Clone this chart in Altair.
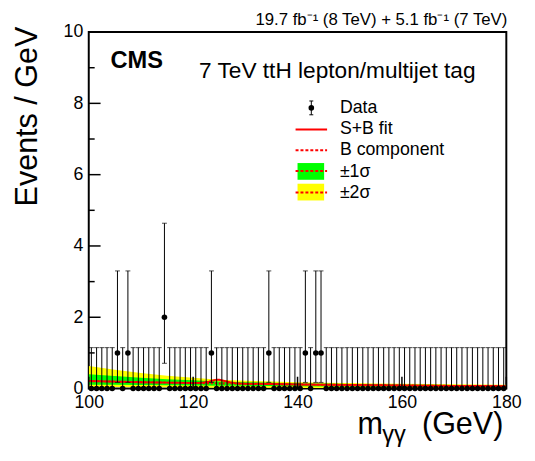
import altair as alt
import pandas as pd

# ---------------- data ----------------
bin_centers = [100.5 + i for i in range(80)]
counts = [0, 0, 0, 0, 0, 1, 0, 1, 0, 0,
          0, 0, 0, 0, 2, 0, 0, 0, 0, 0,
          0, 0, 0, 1, 0, 0, 0, 0, 0, 0,
          0, 0, 0, 0, 1, 0, 0, 0, 0, 0,
          0, 1, 0, 1, 1, 0, 0, 0, 0, 0,
          0, 0, 0, 0, 0, 0, 0, 0, 0, 0,
          0, 0, 0, 0, 0, 0, 0, 0, 0, 0,
          0, 0, 0, 0, 0, 0, 0, 0, 0, 0]
# Poisson (Garwood) interval per observed count
poisson_lo = {0: 0.0, 1: 0.173, 2: 0.709}
poisson_hi = {0: 1.148, 1: 3.300, 2: 4.638}

fit_mass = [100, 105, 110, 115, 120, 125, 130, 135, 140, 145, 150, 155, 160, 165, 170, 175, 180]
bkg = [0.21, 0.195, 0.18, 0.167, 0.155, 0.145, 0.135, 0.125, 0.116, 0.108, 0.10, 0.093, 0.086, 0.08, 0.074, 0.069, 0.064]
up1 = [0.40, 0.35, 0.30, 0.26, 0.23, 0.20, 0.18, 0.165, 0.15, 0.14, 0.13, 0.12, 0.11, 0.105, 0.098, 0.092, 0.088]
lo1 = [0.11, 0.105, 0.10, 0.095, 0.088, 0.082, 0.076, 0.07, 0.065, 0.06, 0.055, 0.05, 0.047, 0.044, 0.041, 0.038, 0.035]
up2 = [0.63, 0.53, 0.44, 0.36, 0.30, 0.25, 0.22, 0.20, 0.18, 0.165, 0.155, 0.145, 0.135, 0.128, 0.12, 0.115, 0.11]
lo2 = [0.05, 0.045, 0.04, 0.035, 0.03, 0.025, 0.02, 0.02, 0.015, 0.015, 0.01, 0.01, 0.01, 0.01, 0.01, 0.01, 0.01]

sb_mass = [100, 105, 110, 115, 120, 121, 122, 123, 124, 124.5, 125, 126, 127, 128, 129, 130, 135, 140, 145, 150, 155, 160, 165, 170, 175, 180]
sb_val = [0.21, 0.195, 0.18, 0.167, 0.156, 0.158, 0.168, 0.195, 0.235, 0.25, 0.245, 0.21, 0.175, 0.152, 0.142, 0.136, 0.125, 0.116, 0.108, 0.10, 0.093, 0.086, 0.08, 0.074, 0.069, 0.064]

y_major = [0, 2, 4, 6, 8, 10]
y_minor = [1, 3, 5, 7, 9]
x_major = [100, 120, 140, 160, 180]

W, H = 424, 362
FONT = "Liberation Sans"

# ---------------- tables ----------------
data_df = pd.DataFrame({
    "m": bin_centers,
    "n": counts,
    "lo": [poisson_lo[c] for c in counts],
    "hi": [poisson_hi[c] for c in counts],
})
lowcap_df = data_df[data_df["n"] > 0]
band_df = pd.DataFrame({"m": fit_mass, "b": bkg, "up1": up1, "lo1": lo1, "up2": up2, "lo2": lo2})
sb_df = pd.DataFrame({"m": sb_mass, "v": sb_val})

xs = alt.Scale(domain=[100, 180], nice=False, zero=False)
ys = alt.Scale(domain=[0, 10], nice=False)

X = alt.X("m:Q", scale=xs,
          axis=alt.Axis(values=x_major, title=None, ticks=False, domain=False, grid=False,
                        labelFontSize=18, labelPadding=5, labelColor="black", labelFont=FONT,
                        labelFlush=False))
Y_axis = alt.Axis(values=y_major, title="Events / GeV", ticks=False, domain=False, grid=False,
                  labelFontSize=18, labelPadding=6, labelColor="black", labelFont=FONT,
                  titleFontSize=31, titleFont=FONT, titleFontWeight="normal", titleColor="black",
                  titleAngle=270, titleAlign="right", titleBaseline="alphabetic",
                  titleX=-53, titleY=-6, labelFlush=False)

base_band = alt.Chart(band_df)
band2 = base_band.mark_area(color="#ffff00", opacity=1, clip=True).encode(
    x=X, y=alt.Y("up2:Q", scale=ys, axis=Y_axis), y2="lo2:Q")
band1 = base_band.mark_area(color="#00ff00", opacity=1, clip=True).encode(
    x=alt.X("m:Q", scale=xs), y=alt.Y("up1:Q", scale=ys), y2="lo1:Q")
bline = base_band.mark_line(color="#ff0000", strokeWidth=2, strokeDash=[2, 2], clip=True).encode(
    x=alt.X("m:Q", scale=xs), y=alt.Y("b:Q", scale=ys))
sbline = alt.Chart(sb_df).mark_line(color="#ff0000", strokeWidth=2, clip=True).encode(
    x=alt.X("m:Q", scale=xs), y=alt.Y("v:Q", scale=ys))

errs = alt.Chart(data_df).mark_rule(color="black", strokeWidth=1, clip=False).encode(
    x=alt.X("m:Q", scale=xs), y=alt.Y("lo:Q", scale=ys), y2="hi:Q")
topcaps = alt.Chart(data_df).mark_tick(color="black", orient="horizontal", size=5, thickness=1).encode(
    x=alt.X("m:Q", scale=xs), y=alt.Y("hi:Q", scale=ys))
lowcaps = alt.Chart(lowcap_df).mark_tick(color="black", orient="horizontal", size=5, thickness=1).encode(
    x=alt.X("m:Q", scale=xs), y=alt.Y("lo:Q", scale=ys))
pts = alt.Chart(data_df).mark_circle(color="black", size=32, opacity=1, clip=False).encode(
    x=alt.X("m:Q", scale=xs), y=alt.Y("n:Q", scale=ys))

# inner ticks (ROOT style)
ymaj = alt.Chart(pd.DataFrame({"t": y_major})).mark_rule(color="black", strokeWidth=1.5).encode(
    y=alt.Y("t:Q", scale=ys), x=alt.value(0), x2=alt.value(12))
ymin = alt.Chart(pd.DataFrame({"t": y_minor})).mark_rule(color="black", strokeWidth=1.5).encode(
    y=alt.Y("t:Q", scale=ys), x=alt.value(0), x2=alt.value(6))
xmaj = alt.Chart(pd.DataFrame({"t": x_major})).mark_rule(color="black", strokeWidth=1.5).encode(
    x=alt.X("t:Q", scale=xs), y=alt.value(H), y2=alt.value(H - 12))

one = pd.DataFrame({"a": [0]})


def txt(text, x, y, size, align="left", weight="normal", baseline="alphabetic"):
    return alt.Chart(one).mark_text(text=text, fontSize=size, font=FONT, fontWeight=weight,
                                    align=align, baseline=baseline, color="black").encode(
        x=alt.value(x), y=alt.value(y))


def hline(x1, x2, y, dash=None, width=2):
    kw = dict(color="#ff0000", strokeWidth=width)
    if dash:
        kw["strokeDash"] = dash
    return alt.Chart(one).mark_rule(**kw).encode(x=alt.value(x1), x2=alt.value(x2), y=alt.value(y))


def box(x1, x2, y1, y2, color):
    return alt.Chart(one).mark_rect(color=color, opacity=1).encode(
        x=alt.value(x1), x2=alt.value(x2), y=alt.value(y1), y2=alt.value(y2))


# legend
leg = [
    alt.Chart(one).mark_rule(color="black", strokeWidth=1).encode(
        x=alt.value(226), y=alt.value(70), y2=alt.value(84)),
    alt.Chart(one).mark_rule(color="black", strokeWidth=1).encode(
        x=alt.value(224), x2=alt.value(228), y=alt.value(70)),
    alt.Chart(one).mark_rule(color="black", strokeWidth=1).encode(
        x=alt.value(224), x2=alt.value(228), y=alt.value(84)),
    alt.Chart(one).mark_circle(color="black", size=32, opacity=1).encode(
        x=alt.value(226), y=alt.value(77)),
    txt("Data", 255, 77, 18, baseline="middle"),
    hline(210, 242, 99),
    txt("S+B fit", 255, 99, 18, baseline="middle"),
    hline(210, 242, 120, dash=[3, 2]),
    txt("B component", 255, 120, 18, baseline="middle"),
    box(212, 239, 133, 150, "#00ff00"),
    hline(210, 242, 141, dash=[3, 2]),
    txt("±1σ", 255, 142, 18, baseline="middle"),
    box(212, 239, 154, 171, "#ffff00"),
    hline(210, 242, 163, dash=[3, 2]),
    txt("±2σ", 255, 163, 18, baseline="middle"),
]

labels = [
    txt("CMS", 22, 37, 24, weight="bold"),
    txt("7 TeV ttH lepton/multijet tag", 112, 47, 23),
    txt("19.7 fb\u207b\u00b9 (8 TeV) + 5.1 fb\u207b\u00b9 (7 TeV)", W + 1, -7, 17, align="right"),
    txt("m", 273, 408, 31),
    txt("γγ", 298, 416, 24),
    txt("(GeV)", W - 3, 408, 31, align="right"),
]

chart = alt.layer(
    band2, band1, bline, sbline, errs, topcaps, lowcaps, pts, ymaj, ymin, xmaj, *leg, *labels
).properties(
    width=W, height=H,
    autosize=alt.AutoSizeParams(type="none"),
    padding={"left": 82, "top": 21, "right": 21, "bottom": 62},
    background="white",
).configure_view(
    stroke="black", strokeWidth=2
).configure_axis(
    labelFont=FONT, titleFont=FONT
)

chart.save("out.html", embed_options={"renderer": "svg", "actions": False})
